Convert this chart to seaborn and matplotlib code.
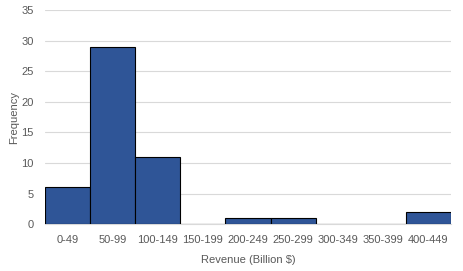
import matplotlib
matplotlib.use("Agg")
import matplotlib.pyplot as plt
import seaborn as sns
import pandas as pd

bins = ["0-49", "50-99", "100-149", "150-199", "200-249", "250-299",
        "300-349", "350-399", "400-449"]
frequency = [6, 29, 11, 0, 1, 1, 0, 0, 2]

df = pd.DataFrame({"bin": bins, "frequency": frequency})

sns.set_style("white")
plt.rcParams["font.family"] = ["Liberation Sans", "DejaVu Sans"]

text_color = "#595959"
fig = plt.figure(figsize=(4.64, 2.71), dpi=100)
ax = fig.add_axes([0.097, 0.173, 0.875, 0.79])

sns.barplot(data=df, x="bin", y="frequency", color="#2F5597", saturation=1,
            width=1.0, edgecolor="black", linewidth=0.8, ax=ax, zorder=3)

ax.set_ylim(0, 35)
ax.set_yticks(range(0, 36, 5))
ax.set_xlim(-0.5, len(bins) - 0.5)
ax.yaxis.grid(True, color="#D9D9D9", linewidth=0.8, zorder=0)
ax.set_axisbelow(True)

for side in ["top", "right", "left"]:
    ax.spines[side].set_visible(False)
ax.spines["bottom"].set_color("#D9D9D9")
ax.spines["bottom"].set_zorder(1)

ax.tick_params(axis="x", length=0, labelsize=8, colors=text_color, pad=8)
ax.tick_params(axis="y", length=0, labelsize=8, colors=text_color, pad=8)
ax.set_xlabel("Revenue (Billion $)", fontsize=8, color=text_color, labelpad=7)
ax.set_ylabel("Frequency", fontsize=8, color=text_color, labelpad=2)

fig.savefig("out.png", dpi=100)
